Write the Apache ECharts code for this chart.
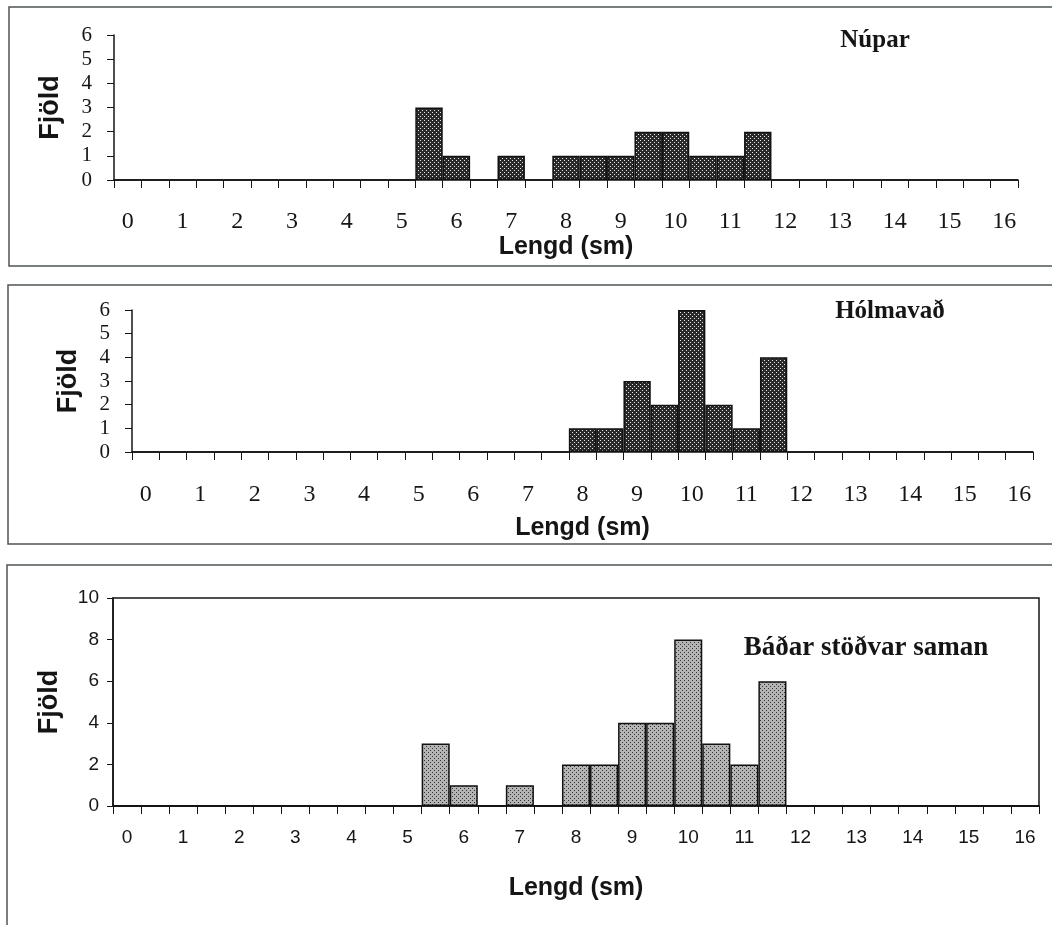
<!DOCTYPE html>
<html>
<head>
<meta charset="utf-8">
<script src="https://cdn.jsdelivr.net/npm/echarts@6/dist/echarts.min.js"></script>
<style>
html,body{margin:0;padding:0;background:#fff;}
#chart{width:1052px;height:925px;}
</style>
</head>
<body>
<div id="chart"></div>
<script>
// Length classes (cm), 0 to 16 in half-cm steps
const categories = ['0','0.5','1','1.5','2','2.5','3','3.5','4','4.5','5','5.5','6','6.5','7','7.5','8','8.5','9','9.5','10','10.5','11','11.5','12','12.5','13','13.5','14','14.5','15','15.5','16'];
const tickLabels = ['0','1','2','3','4','5','6','7','8','9','10','11','12','13','14','15','16'];
// Counts per class
const nupar    = [0,0,0,0,0,0,0,0,0,0,0,3,1,0,1,0,1,1,1,2,2,1,1,2,0,0,0,0,0,0,0,0,0];
const holmavad = [0,0,0,0,0,0,0,0,0,0,0,0,0,0,0,0,1,1,3,2,6,2,1,4,0,0,0,0,0,0,0,0,0];
const badar    = [0,0,0,0,0,0,0,0,0,0,0,3,1,0,1,0,2,2,4,4,8,3,2,6,0,0,0,0,0,0,0,0,0];
const titles = ['Núpar','Hólmavað','Báðar stöðvar saman'];
const yName = 'Fjöld';
const xName = 'Lengd (sm)';

function makePattern(bg, dot){
  const c = document.createElement('canvas');
  c.width = 4; c.height = 4;
  const ctx = c.getContext('2d');
  ctx.fillStyle = bg; ctx.fillRect(0,0,4,4);
  ctx.fillStyle = dot;
  ctx.fillRect(0,0,1,1); ctx.fillRect(2,2,1,1);
  return {image: c, repeat: 'repeat'};
}
const darkPat = makePattern('#2a2a2a', '#e6e6e6');
const lightPat = makePattern('#b4b4b4', '#333333');

const serif = '"Liberation Serif","Times New Roman",serif';
const sans = '"Liberation Sans",Arial,sans-serif';
const ink = '#151515';

function xAxisOf(gi, fam, size, margin, nameGap){
  return {
    type:'category', gridIndex:gi, data:categories, boundaryGap:true,
    axisLine:{show:true, onZero:false, lineStyle:{color:ink, width:1.5}},
    axisTick:{show:true, interval:0, length:8, inside:false, lineStyle:{color:ink, width:1}},
    axisLabel:{interval:1, margin:margin, fontFamily:fam, fontSize:size, color:ink,
      formatter:function(v, i){ return tickLabels[i/2]; }},
    splitLine:{show:false},
    name:xName, nameLocation:'middle', nameGap:nameGap,
    nameTextStyle:{fontFamily:sans, fontWeight:'bold', fontSize:25, color:ink}
  };
}
function yAxisOf(gi, max, interval, fam, size, margin, tickLen){
  return {
    type:'value', gridIndex:gi, min:0, max:max, interval:interval,
    axisLine:{show:true, lineStyle:{color:ink, width:1.5}},
    axisTick:{show:true, length:tickLen, lineStyle:{color:ink, width:1}},
    axisLabel:{margin:margin, fontFamily:fam, fontSize:size, color:ink},
    splitLine:{show:false},
    name:yName, nameLocation:'middle', nameRotate:90, nameGap:50,
    nameTextStyle:{fontFamily:sans, fontWeight:'bold', fontSize:27, color:ink}
  };
}
function barSeries(gi, data, pat){
  return {
    type:'bar', xAxisIndex:gi, yAxisIndex:gi, data:data,
    barCategoryGap:'0%', barGap:'0%', silent:true,
    itemStyle:{color:pat, borderColor:'#111', borderWidth:1.5}
  };
}

const chart = echarts.init(document.getElementById('chart'), null, {renderer:'canvas'});
chart.setOption({
  animation:false,
  backgroundColor:'#ffffff',
  grid:[
    {left:114, width:904, top:35, height:145},
    {left:132, width:901, top:310, height:142},
    {left:113, width:926, top:598, height:208, show:true, borderColor:ink, borderWidth:1.5}
  ],
  xAxis:[
    xAxisOf(0, serif, 24, 30, 54),
    xAxisOf(1, serif, 24, 31, 64),
    xAxisOf(2, sans, 19, 22, 70)
  ],
  yAxis:[
    yAxisOf(0, 6, 1, serif, 21, 22, 7),
    yAxisOf(1, 6, 1, serif, 21, 22, 7),
    yAxisOf(2, 10, 2, sans, 19, 14, 6)
  ],
  series:[
    barSeries(0, nupar, darkPat),
    barSeries(1, holmavad, darkPat),
    barSeries(2, badar, lightPat)
  ],
  graphic:[
    {type:'rect', shape:{x:9, y:7, width:1100, height:259}, style:{fill:null, stroke:'#4d5550', lineWidth:1.5}, silent:true},
    {type:'rect', shape:{x:8, y:285, width:1100, height:259}, style:{fill:null, stroke:'#4d5550', lineWidth:1.5}, silent:true},
    {type:'rect', shape:{x:7, y:565, width:1100, height:400}, style:{fill:null, stroke:'#4d5550', lineWidth:1.5}, silent:true},
    {type:'text', x:875, y:41, style:{text:titles[0], font:'bold 25px '+serif, fill:ink, align:'center', verticalAlign:'middle'}},
    {type:'text', x:890, y:312, style:{text:titles[1], font:'bold 25px '+serif, fill:ink, align:'center', verticalAlign:'middle'}},
    {type:'text', x:866, y:648, style:{text:titles[2], font:'bold 27px '+serif, fill:ink, align:'center', verticalAlign:'middle'}}
  ]
});
</script>
</body>
</html>
